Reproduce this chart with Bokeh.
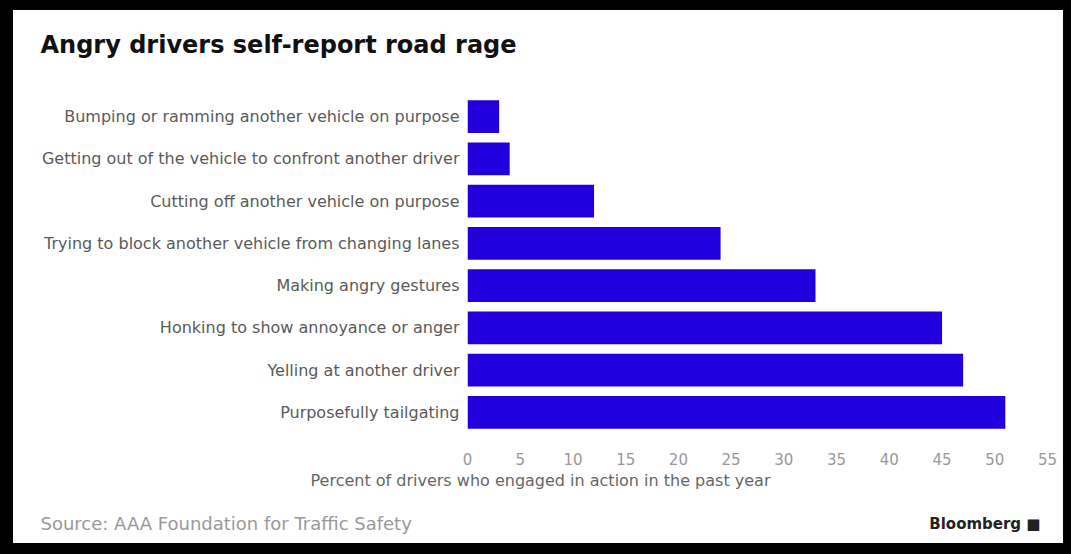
from bokeh.plotting import figure
from bokeh.models import ColumnDataSource, FactorRange, Range1d, Title, FixedTicker
from bokeh.embed import file_html
from bokeh.resources import INLINE

categories = [
    "Bumping or ramming another vehicle on purpose",
    "Getting out of the vehicle to confront another driver",
    "Cutting off another vehicle on purpose",
    "Trying to block another vehicle from changing lanes",
    "Making angry gestures",
    "Honking to show annoyance or anger",
    "Yelling at another driver",
    "Purposefully tailgating",
]
values = [3, 4, 12, 24, 33, 45, 47, 51]
x_ticks = [0, 5, 10, 15, 20, 25, 30, 35, 40, 45, 50, 55]

title_text = "Angry drivers self-report road rage"
x_label = "Percent of drivers who engaged in action in the past year"
source_text = "Source: AAA Foundation for Traffic Safety"
brand_text = "Bloomberg \u25a0"

FONT = "DejaVu Sans"

src = ColumnDataSource(data=dict(cat=categories, val=values))

p = figure(
    width=1050, height=533, title=None,
    y_range=FactorRange(factors=list(reversed(categories))),
    x_range=Range1d(0, 55),
    output_backend="svg", toolbar_location=None,
    min_border_left=454, min_border_right=16,
    min_border_top=85, min_border_bottom=110,
)
p.styles = {"margin-left": "13px", "margin-top": "10px",
            "outline": "13px solid black"}
p.outline_line_color = None
p.background_fill_color = "white"
p.border_fill_color = "white"
p.xgrid.grid_line_color = None
p.ygrid.grid_line_color = None

p.hbar(y="cat", right="val", left=0, height=0.78, source=src,
       fill_color="#2200dd", line_color=None)

xa = p.xaxis[0]
xa.ticker = FixedTicker(ticks=x_ticks)
xa.axis_line_color = None
xa.major_tick_line_color = None
xa.minor_tick_line_color = None
xa.major_tick_out = 0
xa.major_tick_in = 0
xa.major_label_standoff = 19
xa.major_label_text_font = FONT
xa.major_label_text_font_size = "15px"
xa.major_label_text_color = "#999999"

ya = p.yaxis[0]
ya.axis_line_color = None
ya.major_tick_line_color = None
ya.minor_tick_line_color = None
ya.major_tick_out = 0
ya.major_tick_in = 0
ya.major_label_standoff = 8
ya.major_label_text_font = FONT
ya.major_label_text_font_size = "16px"
ya.major_label_text_color = "#5a5a5a"

# above: spacer nearest the frame, then the headline
p.add_layout(Title(text=" ", text_font_size="10px", standoff=22), "above")
p.add_layout(Title(text=title_text, align="left", offset=-427,
                   vertical_align="top", standoff=0,
                   text_font=FONT, text_font_style="bold",
                   text_font_size="24px", text_color="#111111"), "above")

# below: axis label, spacer, source, brand on the same line
p.add_layout(Title(text=x_label, align="left", offset=-157,
                   vertical_align="top", standoff=7,
                   text_font=FONT, text_font_style="normal",
                   text_font_size="16px", text_color="#666666"), "below")
p.add_layout(Title(text=" ", text_font_size="10px", standoff=4), "below")
p.add_layout(Title(text=source_text, align="left", offset=-427,
                   vertical_align="top", standoff=0,
                   text_font=FONT, text_font_style="normal",
                   text_font_size="18px", text_color="#9a9a9a"), "below")
p.add_layout(Title(text=brand_text, align="right", offset=7,
                   vertical_align="top", standoff=-41,
                   text_font=FONT, text_font_style="bold",
                   text_font_size="15px", text_color="#222222"), "below")

open("out.html", "w").write(file_html(p, INLINE))
